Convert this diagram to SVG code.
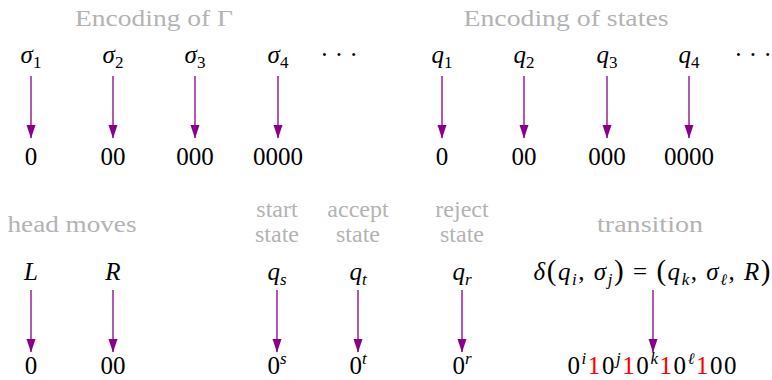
<svg xmlns="http://www.w3.org/2000/svg" width="772" height="380" viewBox="0 0 772 380">
<defs>
<marker id="ah" markerUnits="userSpaceOnUse" markerWidth="14" markerHeight="10" refX="13" refY="5" orient="auto" viewBox="0 0 14 10">
<path d="M0,0.5 L13.5,5 L0,9.5 Z" fill="#880088"/>
</marker>
</defs>
<g id="titles" fill="#b3b3b3" font-size="24" text-anchor="middle">
<text font-family="Liberation Serif, DejaVu Serif, serif" x="154" y="26" textLength="158" lengthAdjust="spacingAndGlyphs">Encoding of Γ</text>
<text font-family="Liberation Serif, DejaVu Serif, serif" x="566" y="26" textLength="205" lengthAdjust="spacingAndGlyphs">Encoding of states</text>
<text font-family="Liberation Serif, DejaVu Serif, serif" x="72" y="232" textLength="129" lengthAdjust="spacingAndGlyphs">head moves</text>
<text font-family="Liberation Serif, DejaVu Serif, serif" x="277" y="217">start</text>
<text font-family="Liberation Serif, DejaVu Serif, serif" x="277" y="242">state</text>
<text font-family="Liberation Serif, DejaVu Serif, serif" x="358" y="217">accept</text>
<text font-family="Liberation Serif, DejaVu Serif, serif" x="358" y="242">state</text>
<text font-family="Liberation Serif, DejaVu Serif, serif" x="462" y="217">reject</text>
<text font-family="Liberation Serif, DejaVu Serif, serif" x="462" y="242">state</text>
<text font-family="Liberation Serif, DejaVu Serif, serif" x="650" y="232" textLength="106" lengthAdjust="spacingAndGlyphs">transition</text>
</g>
<g id="connectors" stroke="#880088" stroke-width="1.3" fill="none" marker-end="url(#ah)">
<line x1="31" y1="76" x2="31" y2="138"/>
<line x1="113" y1="76" x2="113" y2="138"/>
<line x1="195" y1="76" x2="195" y2="138"/>
<line x1="278" y1="76" x2="278" y2="138"/>
<line x1="442" y1="76" x2="442" y2="138"/>
<line x1="524" y1="76" x2="524" y2="138"/>
<line x1="607" y1="76" x2="607" y2="138"/>
<line x1="689" y1="76" x2="689" y2="138"/>
<line x1="31" y1="290" x2="31" y2="352"/>
<line x1="113" y1="290" x2="113" y2="352"/>
<line x1="277" y1="290" x2="277" y2="352"/>
<line x1="358" y1="290" x2="358" y2="352"/>
<line x1="462" y1="290" x2="462" y2="352"/>
<line x1="653" y1="290" x2="653" y2="352"/>
</g>
<g id="nodes" fill="#000" font-size="25" text-anchor="middle">
<g id="sigma1"><text font-family="Liberation Serif, DejaVu Serif, serif" x="31" y="63"><tspan font-style="italic">σ</tspan><tspan font-size="17" dy="5">1</tspan></text><text font-family="Liberation Serif, DejaVu Serif, serif" x="31" y="165">0</text></g>
<g id="sigma2"><text font-family="Liberation Serif, DejaVu Serif, serif" x="113" y="63"><tspan font-style="italic">σ</tspan><tspan font-size="17" dy="5">2</tspan></text><text font-family="Liberation Serif, DejaVu Serif, serif" x="113" y="165">00</text></g>
<g id="sigma3"><text font-family="Liberation Serif, DejaVu Serif, serif" x="195" y="63"><tspan font-style="italic">σ</tspan><tspan font-size="17" dy="5">3</tspan></text><text font-family="Liberation Serif, DejaVu Serif, serif" x="195" y="165">000</text></g>
<g id="sigma4"><text font-family="Liberation Serif, DejaVu Serif, serif" x="278" y="63"><tspan font-style="italic">σ</tspan><tspan font-size="17" dy="5">4</tspan></text><text font-family="Liberation Serif, DejaVu Serif, serif" x="278" y="165">0000</text></g>
<g id="dots1"><text font-family="Liberation Serif, DejaVu Serif, serif" x="339" y="63">· · ·</text></g>
<g id="q1"><text font-family="Liberation Serif, DejaVu Serif, serif" x="442" y="63"><tspan font-style="italic">q</tspan><tspan font-size="17" dy="5">1</tspan></text><text font-family="Liberation Serif, DejaVu Serif, serif" x="442" y="165">0</text></g>
<g id="q2"><text font-family="Liberation Serif, DejaVu Serif, serif" x="524" y="63"><tspan font-style="italic">q</tspan><tspan font-size="17" dy="5">2</tspan></text><text font-family="Liberation Serif, DejaVu Serif, serif" x="524" y="165">00</text></g>
<g id="q3"><text font-family="Liberation Serif, DejaVu Serif, serif" x="607" y="63"><tspan font-style="italic">q</tspan><tspan font-size="17" dy="5">3</tspan></text><text font-family="Liberation Serif, DejaVu Serif, serif" x="607" y="165">000</text></g>
<g id="q4"><text font-family="Liberation Serif, DejaVu Serif, serif" x="689" y="63"><tspan font-style="italic">q</tspan><tspan font-size="17" dy="5">4</tspan></text><text font-family="Liberation Serif, DejaVu Serif, serif" x="689" y="165">0000</text></g>
<g id="dots2"><text font-family="Liberation Serif, DejaVu Serif, serif" x="753" y="63">· · ·</text></g>
<g id="L"><text font-family="Liberation Serif, DejaVu Serif, serif" font-style="italic" x="31" y="280">L</text><text font-family="Liberation Serif, DejaVu Serif, serif" x="31" y="374">0</text></g>
<g id="R"><text font-family="Liberation Serif, DejaVu Serif, serif" font-style="italic" x="113" y="280">R</text><text font-family="Liberation Serif, DejaVu Serif, serif" x="113" y="374">00</text></g>
<g id="qs"><text font-family="Liberation Serif, DejaVu Serif, serif" x="277" y="280"><tspan font-style="italic">q</tspan><tspan font-style="italic" font-size="17" dy="5">s</tspan></text><text font-family="Liberation Serif, DejaVu Serif, serif" x="277" y="374">0<tspan font-style="italic" font-size="17" dy="-10">s</tspan></text></g>
<g id="qt"><text font-family="Liberation Serif, DejaVu Serif, serif" x="358" y="280"><tspan font-style="italic">q</tspan><tspan font-style="italic" font-size="17" dy="5">t</tspan></text><text font-family="Liberation Serif, DejaVu Serif, serif" x="358" y="374">0<tspan font-style="italic" font-size="17" dy="-10">t</tspan></text></g>
<g id="qr"><text font-family="Liberation Serif, DejaVu Serif, serif" x="462" y="280"><tspan font-style="italic">q</tspan><tspan font-style="italic" font-size="17" dy="5">r</tspan></text><text font-family="Liberation Serif, DejaVu Serif, serif" x="462" y="374">0<tspan font-style="italic" font-size="17" dy="-10">r</tspan></text></g>
<g id="transition">
<text font-family="Liberation Serif, DejaVu Serif, serif" x="652" y="280" textLength="237" lengthAdjust="spacing"><tspan font-style="italic">δ</tspan><tspan font-size="29">(</tspan><tspan font-style="italic">q</tspan><tspan font-style="italic" font-size="17" dy="5">i</tspan><tspan dy="-5">, </tspan><tspan font-style="italic">σ</tspan><tspan font-style="italic" font-size="17" dy="5">j</tspan><tspan font-size="29" dy="-5">)</tspan> = <tspan font-size="29">(</tspan><tspan font-style="italic">q</tspan><tspan font-style="italic" font-size="17" dy="5">k</tspan><tspan dy="-5">, </tspan><tspan font-style="italic">σ</tspan><tspan font-family="DejaVu Serif, serif" font-style="italic" font-size="16" dy="5">ℓ</tspan><tspan dy="-5">, </tspan><tspan font-style="italic">R</tspan><tspan font-size="29">)</tspan></text>
<text font-family="Liberation Serif, DejaVu Serif, serif" x="652" y="374" textLength="169" lengthAdjust="spacing">0<tspan font-style="italic" font-size="17" dy="-10">i</tspan><tspan fill="#ff0000" dy="10">1</tspan>0<tspan font-style="italic" font-size="17" dy="-10">j</tspan><tspan fill="#ff0000" dy="10">1</tspan>0<tspan font-style="italic" font-size="17" dy="-10">k</tspan><tspan fill="#ff0000" dy="10">1</tspan>0<tspan font-family="DejaVu Serif, serif" font-style="italic" font-size="16" dy="-10">ℓ</tspan><tspan fill="#ff0000" dy="10">1</tspan>00</text>
</g>
</g>
</svg>
